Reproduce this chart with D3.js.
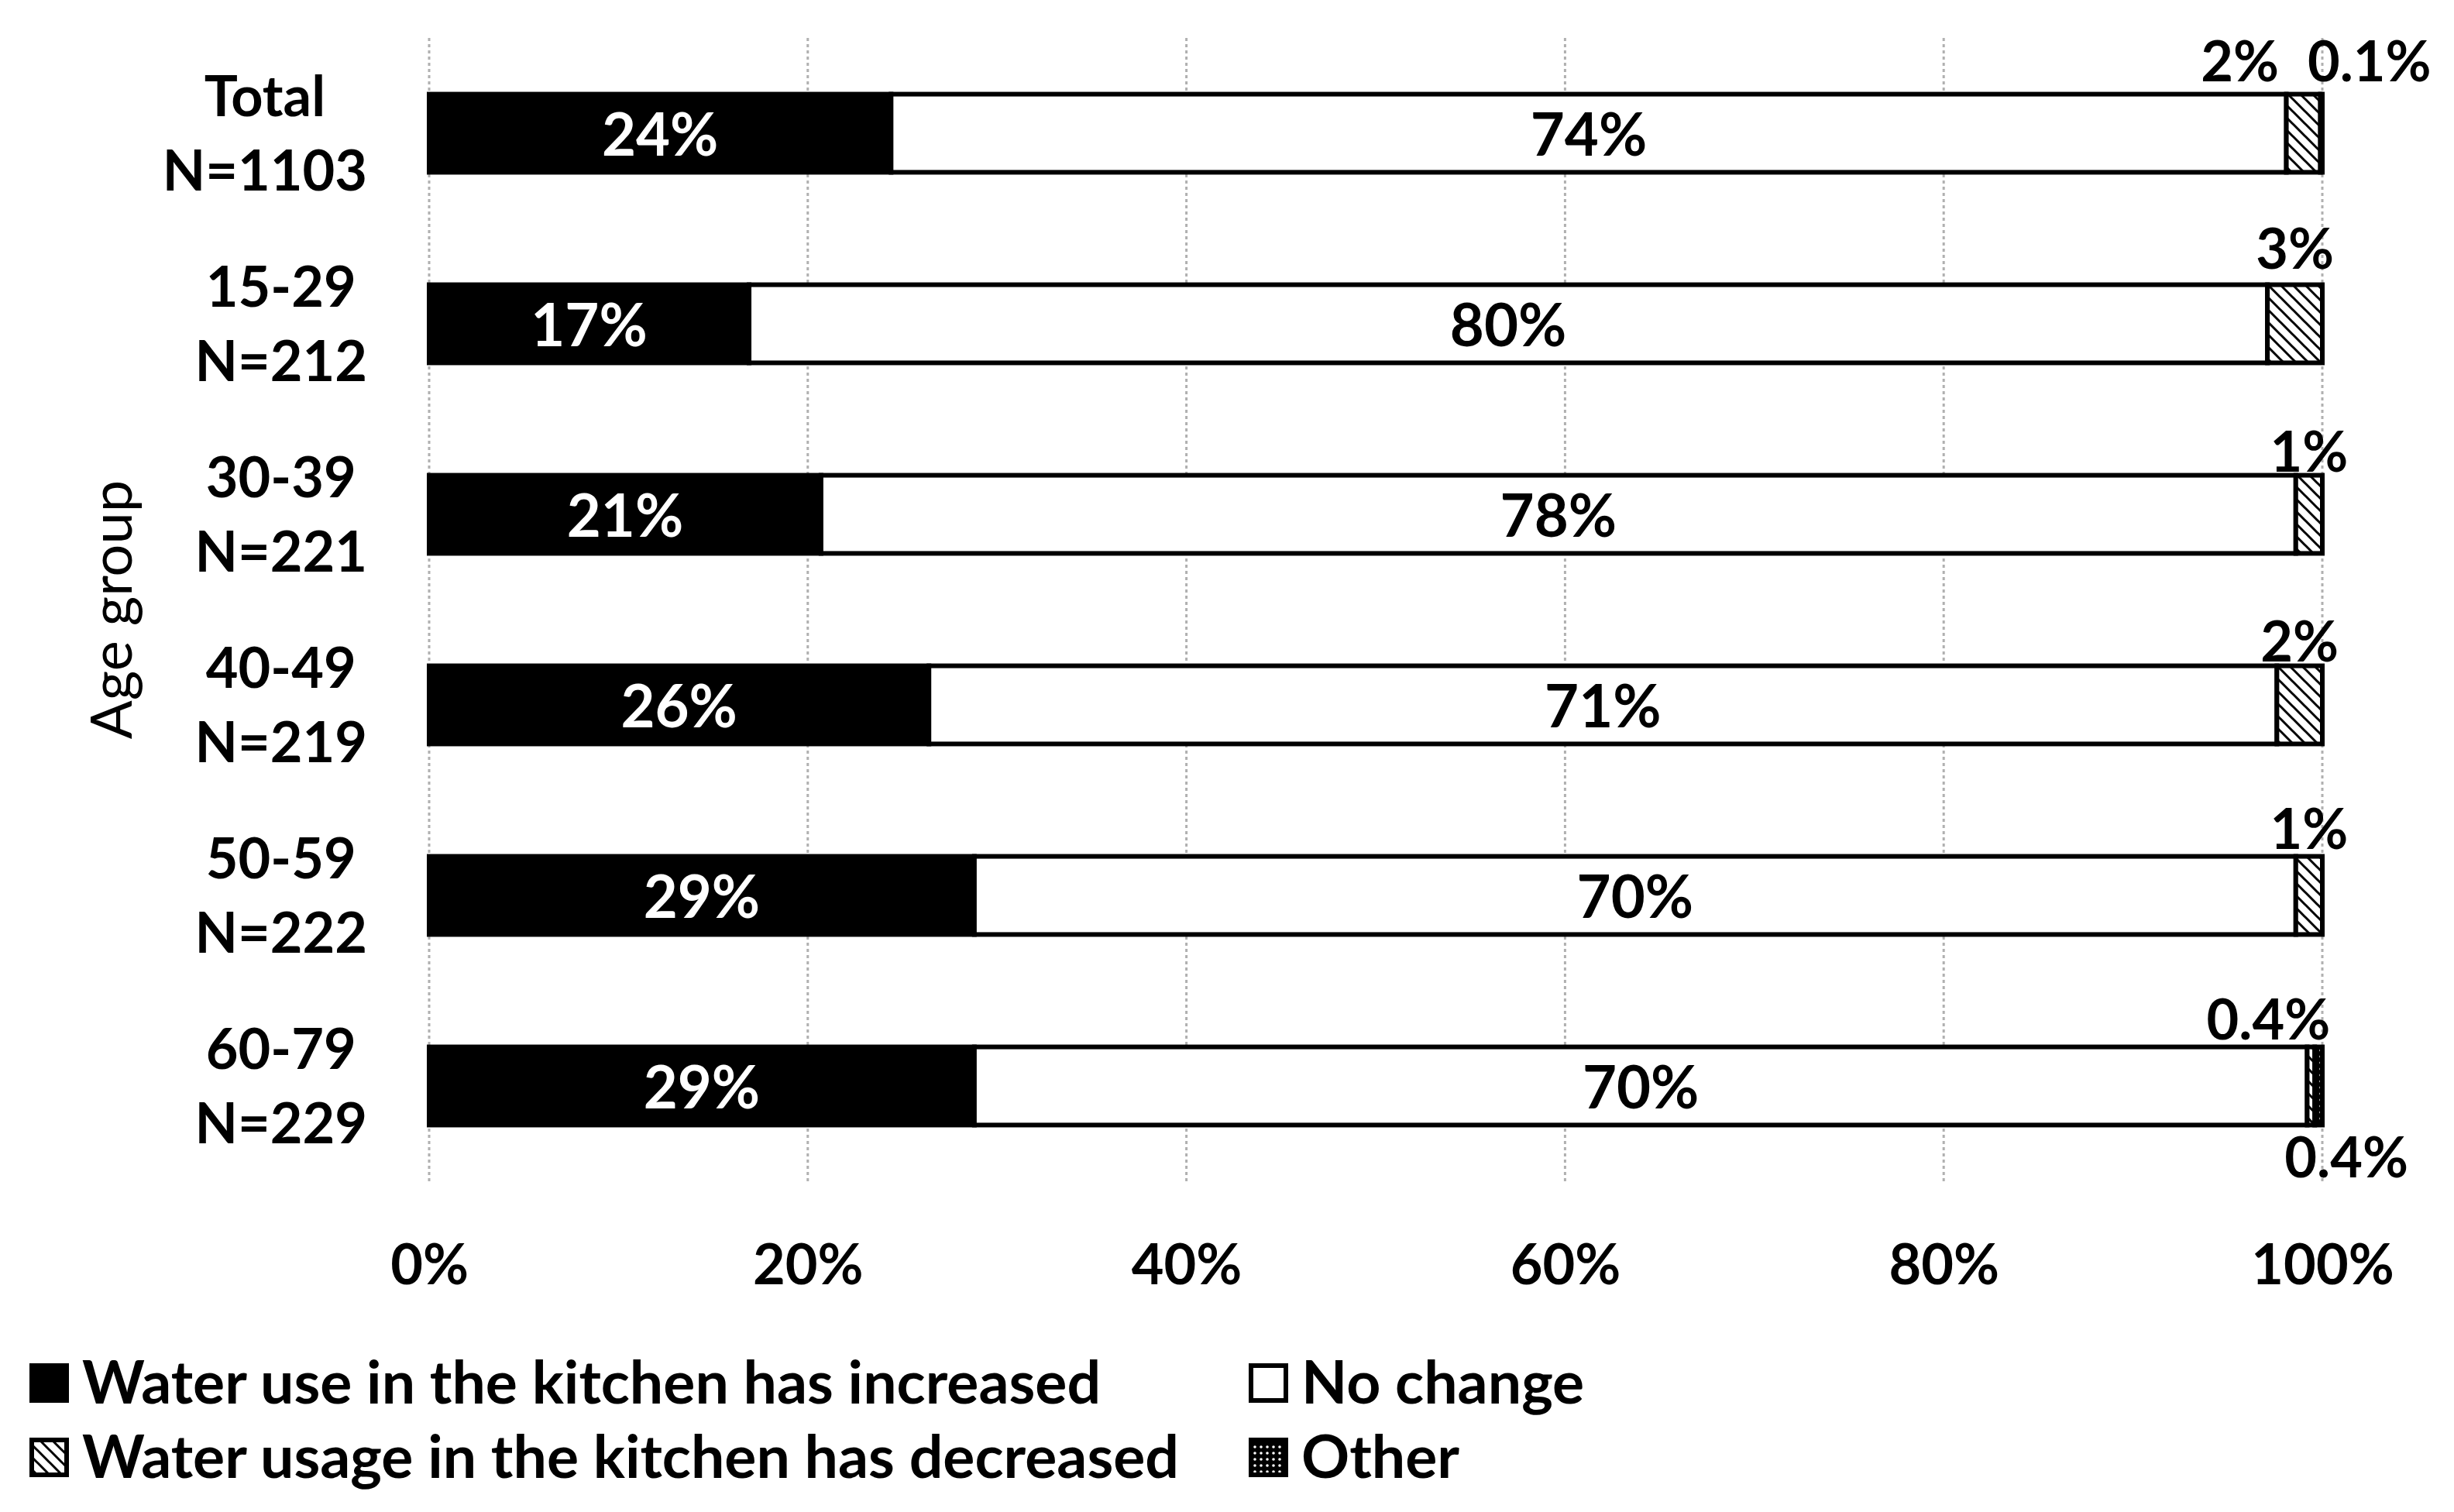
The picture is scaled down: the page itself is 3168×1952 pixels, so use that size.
<!DOCTYPE html>
<html>
<head>
<meta charset="utf-8">
<script src="https://cdn.jsdelivr.net/npm/d3@7"></script>
<style>
  html, body { margin: 0; padding: 0; background: #fff; }
  svg { display: block; }
</style>
</head>
<body>
<svg id="chart" width="3168" height="1952"></svg>
<script>
// ---------- data ----------
const categories = ["Total", "15-29", "30-39", "40-49", "50-59", "60-79"];
const sampleSizes = ["N=1103", "N=212", "N=221", "N=219", "N=222", "N=229"];
const increased = [24.4, 16.9, 20.7, 26.4, 28.8, 28.8];
const noChange  = [73.7, 80.2, 77.9, 71.2, 69.8, 70.4];
const decreased = [1.8, 2.9, 1.4, 2.4, 1.4, 0.4];
const other     = [0.1, 0.0, 0.0, 0.0, 0.0, 0.4];
const seriesNames = ["Water use in the kitchen has increased", "No change",
                     "Water usage in the kitchen has decreased", "Other"];
const xTicks = [0, 20, 40, 60, 80, 100];
const axisTitle = "Age group";

// ---------- layout ----------
const W = 3168, H = 1952;
const plot = { left: 554, right: 2998, top: 49, bottom: 1525 };
const FONT = "Lato, 'Open Sans', 'DejaVu Sans', sans-serif";
// outside label offsets for small segments (layout only)
const decLabelDx = [-82, 0, 0, 0, 0, -55];
const decLabelDy = [17, 21, 5, 6, 10, 10];
const otherLabelDx = [62, 0, 0, 0, 0, 36];

const svg = d3.select("#chart");
svg.append("rect").attr("width", W).attr("height", H).attr("fill", "#fff");

const defs = svg.append("defs");
const pDec = defs.append("pattern").attr("id", "pDec").attr("patternUnits", "userSpaceOnUse")
  .attr("width", 16).attr("height", 16);
pDec.append("rect").attr("width", 16).attr("height", 16).attr("fill", "#fff");
pDec.append("path").attr("d", "M-4,-4 L20,20 M-4,12 L4,20 M12,-4 L20,4")
  .attr("stroke", "#000").attr("stroke-width", 3);
const pOth = defs.append("pattern").attr("id", "pOth").attr("patternUnits", "userSpaceOnUse")
  .attr("width", 8).attr("height", 8);
pOth.append("rect").attr("width", 8).attr("height", 8).attr("fill", "#000");
pOth.append("circle").attr("cx", 4).attr("cy", 4).attr("r", 1.8).attr("fill", "#fff");

const fills = ["#000", "#fff", "url(#pDec)", "url(#pOth)"];

const x = d3.scaleLinear().domain([0, 100]).range([plot.left, plot.right]);
const y = d3.scaleBand().domain(categories).range([plot.top, plot.bottom]).paddingInner(0.59).paddingOuter(0.295);

// gridlines
svg.append("g").selectAll("line").data(xTicks).join("line")
  .attr("x1", d => x(d)).attr("x2", d => x(d))
  .attr("y1", plot.top).attr("y2", plot.bottom)
  .attr("stroke", "#b0b0b0").attr("stroke-width", 3).attr("stroke-dasharray", "4,4");

// x axis labels
const xAxis = d3.axisBottom(x).tickValues(xTicks).tickFormat(d => d + "%").tickSize(0).tickPadding(0);
const gx = svg.append("g").attr("transform", `translate(0,${plot.bottom})`).call(xAxis);
gx.select(".domain").remove();
gx.selectAll("text").attr("dy", null).attr("y", 133)
  .style("font-family", FONT).style("font-weight", "bold").style("font-size", "72px").attr("fill", "#000");

// stacked data
const rows = categories.map((c, i) => ({ cat: c, vals: [increased[i], noChange[i], decreased[i], other[i]] }));
const fmt = v => (v < 1 ? d3.format(".1f")(v) : d3.format(".0f")(v)) + "%";

const bars = svg.append("g");
rows.forEach((r, i) => {
  let cum = 0;
  const y0 = y(r.cat), bh = y.bandwidth();
  r.vals.forEach((v, s) => {
    if (v > 0) {
      bars.append("rect")
        .attr("x", x(cum)).attr("y", y0)
        .attr("width", x(cum + v) - x(cum)).attr("height", bh)
        .attr("fill", fills[s]).attr("stroke", "#000").attr("stroke-width", 6);
      const cx = x(cum + v / 2);
      if (s < 2) {
        bars.append("text").attr("x", cx).attr("y", y0 + bh / 2 + 29)
          .attr("text-anchor", "middle").attr("fill", s === 0 ? "#fff" : "#000")
          .style("font-family", FONT).style("font-weight", "bold").style("font-size", "76px")
          .text(fmt(v));
      } else if (s === 2) {
        bars.append("text").attr("x", cx + decLabelDx[i]).attr("y", y0 - decLabelDy[i])
          .attr("text-anchor", "middle").attr("fill", "#000")
          .style("font-family", FONT).style("font-weight", "bold").style("font-size", "72px")
          .text(fmt(v));
      } else {
        const ly = i === 0 ? y0 - decLabelDy[i] : y0 + bh + 68;
        bars.append("text").attr("x", cx + otherLabelDx[i]).attr("y", ly)
          .attr("text-anchor", "middle").attr("fill", "#000")
          .style("font-family", FONT).style("font-weight", "bold").style("font-size", "72px")
          .text(fmt(v));
      }
    }
    cum += v;
  });
});

// category labels (two-line, centered block, right-aligned)
const labelRight = 474;
const yl = svg.append("g");
categories.forEach((c, i) => {
  const cy = y(c) + y.bandwidth() / 2;
  const g = yl.append("g");
  const t1 = g.append("text").attr("y", cy - 22).text(c);
  const t2 = g.append("text").attr("y", cy + 74).text(sampleSizes[i]);
  g.selectAll("text").attr("text-anchor", "middle")
    .style("font-family", FONT).style("font-weight", "bold").style("font-size", "72px").attr("fill", "#000");
  const w = Math.max(t1.node().getComputedTextLength(), t2.node().getComputedTextLength());
  g.selectAll("text").attr("x", labelRight - w / 2);
});

// axis title
svg.append("text").attr("transform", `translate(170,${(plot.top + plot.bottom) / 2}) rotate(-90)`)
  .attr("text-anchor", "middle")
  .style("font-family", FONT).style("font-weight", "normal").style("font-size", "74px")
  .text(axisTitle);

// legend
const legItems = [
  { name: seriesNames[0], fill: fills[0], x: 38, y: 1812 },
  { name: seriesNames[1], fill: fills[1], x: 1612, y: 1812 },
  { name: seriesNames[2], fill: fills[2], x: 38, y: 1908 },
  { name: seriesNames[3], fill: fills[3], x: 1612, y: 1908 }
];
const lg = svg.append("g");
legItems.forEach(it => {
  lg.append("rect").attr("x", it.x + 3).attr("y", it.y - 49).attr("width", 45).attr("height", 45)
    .attr("fill", it.fill).attr("stroke", "#000").attr("stroke-width", 6);
  lg.append("text").attr("x", it.x + 68).attr("y", it.y)
    .style("font-family", FONT).style("font-weight", "bold").style("font-size", "77px")
    .text(it.name);
});
</script>
</body>
</html>
